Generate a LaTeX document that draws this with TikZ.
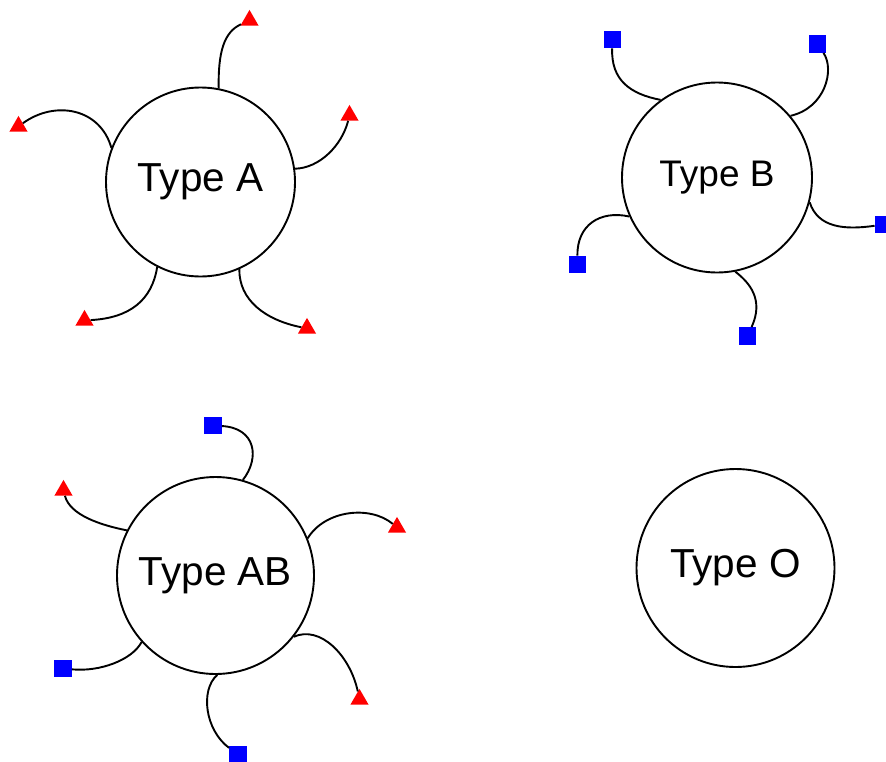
\documentclass[tikz,border=0pt]{standalone}
\usepackage{fontspec}
\setmainfont{Liberation Sans}
\usetikzlibrary{shapes.geometric}
\definecolor{antired}{RGB}{255,0,0}
\definecolor{antiblue}{RGB}{0,0,255}
\begin{document}
\begin{tikzpicture}[x=1pt,y=-1pt,
  cell/.style={circle,draw=black,line width=1.9pt,inner sep=0pt,
    font=\fontsize{40.5}{48}\selectfont},
  agA/.style={regular polygon,regular polygon sides=3,fill=antired,
    inner sep=0pt,minimum size=21pt},
  agB/.style={rectangle,fill=antiblue,inner sep=0pt,minimum size=17.5pt},
  stalk/.style={draw=black,line width=1.9pt}]
\useasboundingbox (0,0) rectangle (886,761);

% ---- red cell, type A ----
\node[cell,minimum size=189pt] (A) at (200.5,182) {Type A};
\node[agA] (a1) at (249.5,20.4) {};
\node[agA] (a2) at (18.5,126.4) {};
\node[agA] (a3) at (349.5,115.4) {};
\node[agA] (a4) at (84.5,320.4) {};
\node[agA] (a5) at (307,328.4) {};
\draw[stalk] (A.79) .. controls (218,52) and (224,32) .. (a1);
\draw[stalk] (A.159) .. controls (100,108) and (55,100) .. (a2);
\draw[stalk] (A.8) .. controls (320,168) and (342,145) .. (a3);
\draw[stalk] (A.-117.6) .. controls (152,300) and (130,318) .. (a4);
\draw[stalk] (A.-66.6) .. controls (239,300) and (265,320) .. (a5);

% ---- red cell, type B ----
\node[cell,minimum size=190pt,font=\fontsize{37}{44}\selectfont] (B) at (717,177.5) {Type B};
\node[agB] (b1) at (612.5,39.5) {};
\node[agB] (b2) at (817.5,44) {};
\node[agB] (b3) at (883.5,224.5) {};
\node[agB] (b4) at (577.5,264.5) {};
\node[agB] (b5) at (747.5,336) {};
\draw[stalk] (B.126.2) .. controls (630,94) and (611,80) .. (b1);
\draw[stalk] (B.40.6) .. controls (825,108) and (835,70) .. (b2);
\draw[stalk] (B.-15.3) .. controls (818,228) and (845,230) .. (b3);
\draw[stalk] (B.204.4) .. controls (600,210) and (577,225) .. (b4);
\draw[stalk] (B.-79.2) .. controls (750,283) and (764,300) .. (b5);

% ---- red cell, type AB ----
\node[cell,minimum size=197pt] (AB) at (215.5,575.5) {Type AB};
\node[agB] (c1) at (213,425.5) {};
\node[agA] (c2) at (63.5,490.4) {};
\node[agA] (c3) at (397,527.4) {};
\node[agB] (c4) at (63,668.5) {};
\node[agA] (c5) at (359.5,699.4) {};
\node[agB] (c6) at (238,754.5) {};
\draw[stalk] (AB.74.1) .. controls (260,458) and (256,428) .. (c1);
\draw[stalk] (AB.153.3) .. controls (100,525) and (70,515) .. (c2);
\draw[stalk] (AB.22.6) .. controls (325,510) and (370,505) .. (c3);
\draw[stalk] (AB.222.1) .. controls (132,660) and (100,672) .. (c4);
\draw[stalk] (AB.-38) .. controls (320,625) and (350,655) .. (c5);
\draw[stalk] (AB.-89.1) .. controls (200,690) and (205,730) .. (c6);

% ---- red cell, type O ----
\node[cell,minimum size=198pt] (O) at (735.5,568) {Type O};
\end{tikzpicture}
\end{document}
